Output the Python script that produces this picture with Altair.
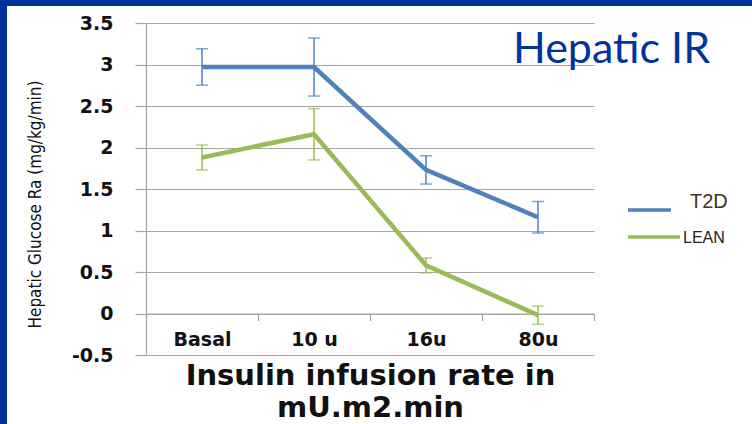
import altair as alt
import pandas as pd

categories = ["Basal", "10 u", "16u", "80u"]
t2d_mean = [2.97, 2.97, 1.73, 1.16]
t2d_err = [0.22, 0.35, 0.17, 0.19]
lean_mean = [1.88, 2.16, 0.58, -0.02]
lean_err = [0.15, 0.31, 0.09, 0.11]
series_names = ["T2D", "LEAN"]
series_colors = ["#4F81BD", "#9BBB59"]
y_ticks = [-0.5, 0, 0.5, 1, 1.5, 2, 2.5, 3, 3.5]

rows = []
for name, means, errs in [("T2D", t2d_mean, t2d_err), ("LEAN", lean_mean, lean_err)]:
    for c, m, e in zip(categories, means, errs):
        rows.append({"cat": c, "series": name, "mean": m, "lo": m - e, "hi": m + e})
df = pd.DataFrame(rows)

GRID = "#A6A6A6"
W, H = 448, 332

x_enc = alt.X(
    "cat:N",
    sort=categories,
    scale=alt.Scale(type="band", paddingInner=0, paddingOuter=0),
    axis=alt.Axis(
        title=["Insulin infusion rate in", "mU.m2.min"],
        titleFont="DejaVu Sans", titleFontWeight="bold", titleFontSize=29,
        titleColor="#111111", titleLineHeight=32, titleBaseline="top",
        titleX=W / 2, titleY=48, titleAnchor="middle", titleAlign="center",
        labelFont="DejaVu Sans", labelFontWeight="bold", labelFontSize=19,
        labelColor="#111111", labelAngle=0, labelBaseline="middle", labelPadding=19,
        tickBand="extent", tickSize=7, tickColor=GRID, tickWidth=1.2,
        domainColor=GRID, domainWidth=1.2, grid=False,
        offset=-41.5,
    ),
)
y_scale = alt.Scale(domain=[-0.5, 3.5], nice=False, zero=False)
y_axis = alt.Axis(
    values=y_ticks,
    labelExpr="datum.value < 0 ? '-' + format(-datum.value, '~g') : format(datum.value, '~g')",
    title="Hepatic Glucose Ra (mg/kg/min)",
    titleFont="Liberation Sans Narrow, DejaVu Sans Condensed, sans-serif",
    titleFontWeight="normal", titleFontSize=17, titleColor="#111111",
    titleAngle=270, titleBaseline="middle", titleAlign="center",
    titleX=-111, titleY=H / 2 + 15,
    labelFont="DejaVu Sans", labelFontWeight="bold", labelFontSize=19,
    labelColor="#111111", labelPadding=22, labelBaseline="middle",
    tickSize=11, tickColor=GRID, tickWidth=1.2,
    domainColor=GRID, domainWidth=1.2,
    grid=True, gridColor=GRID, gridWidth=1.2,
)
color_enc = alt.Color(
    "series:N",
    scale=alt.Scale(domain=series_names, range=series_colors),
    legend=None,
)

base = alt.Chart(df)

lines = base.mark_line(strokeWidth=4.5).encode(
    x=x_enc,
    y=alt.Y("mean:Q", scale=y_scale, axis=y_axis),
    color=color_enc,
)
err_rule = base.mark_rule(strokeWidth=1.5).encode(
    x=alt.X("cat:N", sort=categories),
    y="lo:Q", y2="hi:Q",
    color=color_enc,
)
cap_lo = base.mark_tick(size=12, thickness=1.5).encode(
    x=alt.X("cat:N", sort=categories), y="lo:Q", color=color_enc
)
cap_hi = base.mark_tick(size=12, thickness=1.5).encode(
    x=alt.X("cat:N", sort=categories), y="hi:Q", color=color_enc
)

# Decorations: frame bands, title, legend
frame_left = alt.Chart(pd.DataFrame({"a": [0]})).mark_rect(color="#003399").encode(
    x=alt.value(-146), x2=alt.value(-139), y=alt.value(-23), y2=alt.value(H + 69)
)
frame_top = alt.Chart(pd.DataFrame({"a": [0]})).mark_rect(color="#003399").encode(
    x=alt.value(-146), x2=alt.value(W + 158), y=alt.value(-23), y2=alt.value(-17)
)
title = alt.Chart(pd.DataFrame({"t": ["Hepatic IR"]})).mark_text(
    font="Lato", fontSize=43, color="#0033A0", align="left", baseline="alphabetic"
).encode(text="t:N", x=alt.value(367), y=alt.value(40))

leg_df = pd.DataFrame({"series": series_names})
leg_t2d_line = alt.Chart(leg_df.iloc[[0]]).mark_rule(strokeWidth=3.5, color=series_colors[0]).encode(
    x=alt.value(482), x2=alt.value(525), y=alt.value(187)
)
leg_lean_line = alt.Chart(leg_df.iloc[[1]]).mark_rule(strokeWidth=3.5, color=series_colors[1]).encode(
    x=alt.value(482), x2=alt.value(534), y=alt.value(214)
)
leg_t2d_text = alt.Chart(leg_df.iloc[[0]]).mark_text(
    font="Liberation Sans", fontSize=20, color="#3F3526", align="left", baseline="middle"
).encode(text="series:N", x=alt.value(544), y=alt.value(179))
leg_lean_text = alt.Chart(leg_df.iloc[[1]]).mark_text(
    font="Liberation Sans", fontSize=16, color="#222222", align="left", baseline="middle"
).encode(text="series:N", x=alt.value(537), y=alt.value(215))

chart = alt.layer(
    lines, err_rule, cap_lo, cap_hi,
    frame_left, frame_top, title,
    leg_t2d_line, leg_lean_line, leg_t2d_text, leg_lean_text,
).properties(
    width=W, height=H,
    padding={"left": 146, "top": 23, "right": 158, "bottom": 69},
    autosize=alt.AutoSizeParams(type="none"),
    background="white",
).configure_view(stroke="transparent")

chart.save("out.html", embed_options={"renderer": "svg", "actions": False})
